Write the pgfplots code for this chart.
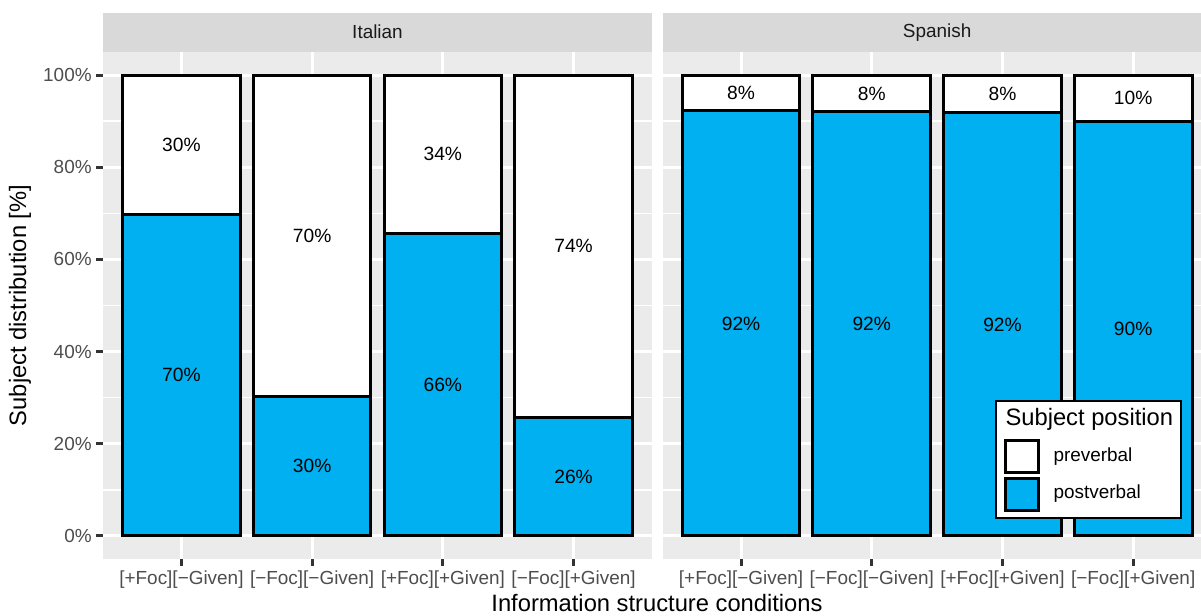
\documentclass[border=0pt]{standalone}
\usepackage{pgfplots}
\pgfplotsset{compat=1.18}
\usepackage{fontspec}
\setmainfont{Liberation Sans}

\definecolor{barblue}{HTML}{00B0F0}
\definecolor{panelgrey}{HTML}{EBEBEB}
\definecolor{stripgrey}{HTML}{D9D9D9}
\definecolor{ticklab}{HTML}{4D4D4D}
\definecolor{tickdark}{HTML}{333333}
\definecolor{striptext}{HTML}{1A1A1A}

\newcommand{\ticksize}{\fontsize{14.2}{17}\selectfont}
\newcommand{\titlesize}{\fontsize{17.8}{21}\selectfont}

\pgfplotsset{
  facet/.style={
    scale only axis,
    width=411.75pt, height=380.25pt,
    anchor=south west,
    xmin=0.4, xmax=4.6, ymin=-5, ymax=105,
    axis background/.style={fill=panelgrey},
    axis line style={draw=none},
    tick align=outside,
    tick pos=left,
    xtick={1,2,3,4},
    xticklabels={{[+Foc][−Given]},{[−Foc][−Given]},{[+Foc][+Given]},{[−Foc][+Given]}},
    ytick={0,20,...,100},
    minor ytick={10,30,50,70,90},
    xmajorgrids, ymajorgrids, yminorgrids,
    major grid style={white, line width=2.3pt},
    minor grid style={white, line width=1.15pt},
    major tick length=5pt,
    minor tick length=0pt,
    tick style={draw=tickdark, line width=2.3pt},
    minor tick style={draw=none},
    tick label style={font=\ticksize, text=ticklab},
    every axis title shift=0pt,
    title style={at={(0.5,1)}, anchor=south, fill=stripgrey, inner sep=0pt,
      minimum width=411.75pt, minimum height=29.25pt,
      text=striptext, font=\ticksize},
  },
  post/.style={ybar, bar width=0.9, bar shift=0pt, draw=black, fill=barblue, line width=2.25pt},
  pre/.style={ybar, bar width=0.9, bar shift=0pt, draw=black, fill=white, line width=2.25pt},
  labs/.style={draw=none, forget plot, nodes near coords, point meta=explicit symbolic,
    nodes near coords align=center,
    every node near coord/.append style={font=\fontsize{14.4}{17}\selectfont, text=black, inner sep=0pt}},
}

\begin{document}
\begin{tikzpicture}
\path[use as bounding box, clip] (0pt,0pt) rectangle (900.75pt,461.25pt);

% Italian
\begin{axis}[facet, at={(77.25pt,42pt)}, title={Italian},
  yticklabels={0\%,20\%,40\%,60\%,80\%,100\%},
  ylabel={Subject distribution [\%]},
  xlabel={Information structure conditions},
  every axis y label/.style={at={(axis description cs:-0.1512,0.5)}, rotate=90, anchor=center, font=\titlesize},
  every axis x label/.style={at={(axis description cs:1.0091,-0.1045)}, anchor=base, font=\titlesize},
]
\addplot[pre] coordinates {(1,100) (2,100) (3,100) (4,100)};
\addplot[post] coordinates {(1,69.8) (2,30.2) (3,65.6) (4,25.8)};
\addplot[labs] table[meta=lab] {
x y lab
1 84.9 30\%
1 34.9 70\%
2 65.1 70\%
2 15.1 30\%
3 82.8 34\%
3 32.8 66\%
4 62.9 74\%
4 12.9 26\%
};
\end{axis}

% Spanish
\begin{axis}[facet, at={(496.95pt,42pt)}, title={Spanish},
  yticklabels={}, ymajorticks=false,
  legend cell align=left,
  legend style={at={(0.6055,0.3136)}, anchor=north west, draw=black, line width=1.5pt,
    fill=white, inner xsep=6pt, inner ysep=5pt, row sep=2.2pt, column sep=10.125pt,
    font=\ticksize, nodes={inner sep=0pt, text depth=}},
]
\addlegendimage{empty legend}
\addlegendentry{\hspace{-36pt}\rule[-7.9pt]{0pt}{21pt}\titlesize Subject position}
\addplot[pre, legend image code/.code={\draw[line width=2.25pt, draw=black, fill=white] (1.125pt,-12pt) rectangle (25.875pt,12pt);}]
  coordinates {(1,100) (2,100) (3,100) (4,100)};
\addlegendentry{preverbal}
\addplot[post, legend image code/.code={\draw[line width=2.25pt, draw=black, fill=barblue] (1.125pt,-12pt) rectangle (25.875pt,12pt);}]
  coordinates {(1,92.2) (2,92.0) (3,91.8) (4,89.9)};
\addlegendentry{postverbal}
\addplot[labs] table[meta=lab] {
x y lab
1 96.1 8\%
1 46.1 92\%
2 96.0 8\%
2 46.0 92\%
3 95.9 8\%
3 45.9 92\%
4 95.0 10\%
4 45.0 90\%
};
\end{axis}
\end{tikzpicture}
\end{document}
